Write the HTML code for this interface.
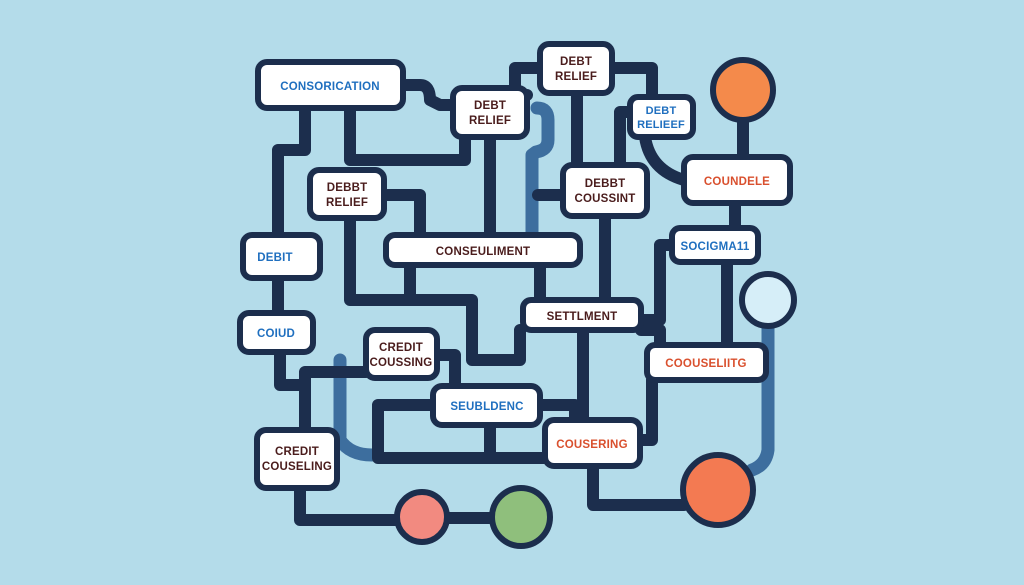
<!DOCTYPE html>
<html><head><meta charset="utf-8"><style>
html,body{margin:0;padding:0;background:#b4dcea;}
svg{display:block}
text{font-family:"Liberation Sans",sans-serif;font-weight:bold;font-size:11.5px;text-anchor:middle;letter-spacing:0.2px}
.b{fill:#fff;stroke:#1c2e4d;stroke-width:6}
.d{fill:#4a1c1c}.u{fill:#1f6fbf}.o{fill:#d9502e}
</style></head><body>
<svg width="1024" height="585" viewBox="0 0 1024 585">
<rect width="1024" height="585" fill="#b4dcea"/>
<g fill="none" stroke="#3d6e9e" stroke-width="13" stroke-linejoin="round" stroke-linecap="round">
<path d="M537 108 Q548 108 548 120 L548 140 Q548 150 536 152 L532 155 L532 235"/>
<path d="M340 360 L340 440 Q350 455 372 455"/>
<path d="M768 325 L768 450 Q766 465 752 470"/>
</g>
<g fill="none" stroke="#1c2e4d" stroke-width="12" stroke-linejoin="round" stroke-linecap="round">
<path d="M305 108 L305 150 L278 150 L278 235"/>
<path d="M350 108 L350 160 L465 160 L465 137"/>
<path d="M403 85 L420 85 Q430 85 430 100 L440 105 L453 105"/>
<path d="M540 68 L515 68 L515 95 L527 95"/>
<path d="M612 68 L652 68 L652 97"/>
<path d="M577 93 L577 165"/>
<path d="M490 137 L490 235"/>
<path d="M384 195 L420 195 L420 235"/>
<path d="M350 218 L350 300 L472 300 L472 360 L520 360 L520 330"/>
<path d="M410 265 L410 300"/>
<path d="M540 265 L540 300"/>
<path d="M278 278 L278 313"/>
<path d="M280 352 L280 385 L305 385"/>
<path d="M305 430 L305 372 L366 372"/>
<path d="M300 488 L300 520 L398 520"/>
<path d="M446 518 L493 518"/>
<path d="M437 355 L455 355 L455 386"/>
<path d="M433 405 L378 405 L378 458 L545 458"/>
<path d="M490 425 L490 458"/>
<path d="M540 405 L575 405 L575 420"/>
<path d="M583 330 L583 420"/>
<path d="M593 466 L593 505 L684 505"/>
<path d="M640 440 L652 440 L652 380"/>
<path d="M605 216 L605 300"/>
<path d="M563 195 L538 195"/>
<path d="M645 137 Q650 170 684 180"/>
<path d="M630 112 L620 112 L620 165"/>
<path d="M743 120 L743 157"/>
<path d="M735 203 L735 228"/>
<path d="M727 262 L727 345"/>
<path d="M672 245 L660 245 L660 320 L650 320 L641 320"/>
<path d="M641 330 L660 330 L660 345"/>
</g>
<circle cx="743" cy="90" r="30" fill="#f48a4b" stroke="#1c2e4d" stroke-width="6"/>
<circle cx="768" cy="300" r="26" fill="#d6eef8" stroke="#1c2e4d" stroke-width="6"/>
<circle cx="422" cy="517" r="25" fill="#f28a80" stroke="#1c2e4d" stroke-width="6"/>
<circle cx="521" cy="517" r="29" fill="#8fbf7c" stroke="#1c2e4d" stroke-width="6"/>
<circle cx="718" cy="490" r="35" fill="#f37a52" stroke="#1c2e4d" stroke-width="6"/>
<rect class="b" x="258" y="62" width="145" height="46" rx="9"/><text class="u" x="330" y="90">CONSORICATION</text>
<rect class="b" x="453" y="88" width="74" height="49" rx="9"/><text class="d" x="490" y="109">DEBT</text><text class="d" x="490" y="124">RELIEF</text>
<rect class="b" x="540" y="44" width="72" height="49" rx="9"/><text class="d" x="576" y="65">DEBT</text><text class="d" x="576" y="80">RELIEF</text>
<rect class="b" x="630" y="97" width="63" height="40" rx="8"/><text class="u" x="661" y="114" style="font-size:11px">DEBT</text><text class="u" x="661" y="128" style="font-size:11px">RELIEEF</text>
<rect class="b" x="684" y="157" width="106" height="46" rx="9"/><text class="o" x="737" y="185">COUNDELE</text>
<rect class="b" x="310" y="170" width="74" height="48" rx="9"/><text class="d" x="347" y="191">DEBBT</text><text class="d" x="347" y="206">RELIEF</text>
<rect class="b" x="563" y="165" width="84" height="51" rx="9"/><text class="d" x="605" y="187">DEBBT</text><text class="d" x="605" y="202">COUSSINT</text>
<rect class="b" x="243" y="235" width="77" height="43" rx="9"/><text class="u" x="275" y="261">DEBIT</text>
<rect class="b" x="386" y="235" width="194" height="30" rx="9"/><text class="d" x="483" y="255">CONSEULIMENT</text>
<rect class="b" x="672" y="228" width="86" height="34" rx="8"/><text class="u" x="715" y="250">SOCIGMA11</text>
<rect class="b" x="523" y="300" width="118" height="30" rx="8"/><text class="d" x="582" y="320">SETTLMENT</text>
<rect class="b" x="240" y="313" width="73" height="39" rx="9"/><text class="u" x="276" y="337">COIUD</text>
<rect class="b" x="366" y="330" width="71" height="48" rx="9"/><text class="d" x="401" y="351">CREDIT</text><text class="d" x="401" y="366">COUSSING</text>
<rect class="b" x="647" y="345" width="119" height="35" rx="8"/><text class="o" x="706" y="367">COOUSELIITG</text>
<rect class="b" x="433" y="386" width="107" height="39" rx="9"/><text class="u" x="487" y="410">SEUBLDENC</text>
<rect class="b" x="545" y="420" width="95" height="46" rx="9"/><text class="o" x="592" y="448">COUSERING</text>
<rect class="b" x="257" y="430" width="80" height="58" rx="9"/><text class="d" x="297" y="455">CREDIT</text><text class="d" x="297" y="470">COUSELING</text>
</svg>
</body></html>
